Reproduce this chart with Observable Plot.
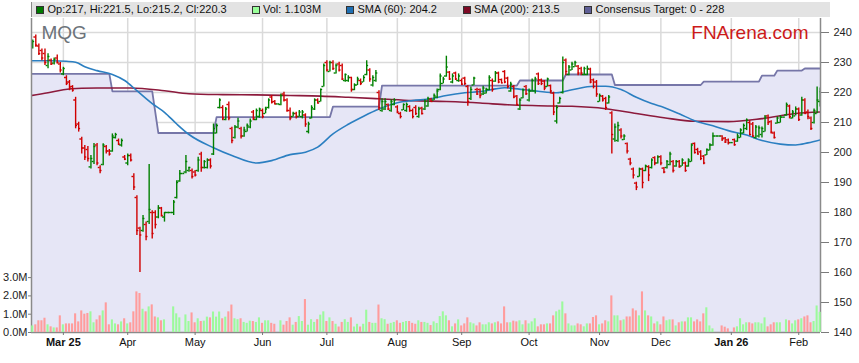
<!DOCTYPE html>
<html><head><meta charset="utf-8">
<script src="https://cdn.jsdelivr.net/npm/d3@7"></script>
<script src="https://cdn.jsdelivr.net/npm/@observablehq/plot@0.6"></script>
<style>
body{margin:0;background:#fff;font-family:"Liberation Sans",Arial,Helvetica,sans-serif;}
#wrap{position:relative;width:859px;height:363px;overflow:hidden;}
#wrap svg{position:absolute;left:0;top:0;}
#hdr{position:absolute;left:31px;top:2px;width:798px;height:15px;background:#e3e3e3;font-size:11px;color:#111;z-index:5;border-left:1.5px solid #8a8a8a;}
.it{position:absolute;top:0;line-height:15px;white-space:nowrap;}
.sq{position:absolute;top:4px;width:6px;height:6px;border:1px solid #333;}
</style></head>
<body><div id="wrap"><div id="hdr"></div></div>
<script>
// ---------- data ----------
const ticker = "MQG";
const brand = "FNArena.com";
const legendLabels = ["Op:217, Hi:221.5, Lo:215.2, Cl:220.3", "Vol: 1.103M", "SMA (60): 204.2", "SMA (200): 213.5", "Consensus Target: 0 - 228"];
const legendColors = ["#007a00", "#99ff99", "#1f6fb2", "#7d0a25", "#5f5f96"];
const monthIdx = [0, 21, 43, 65, 86, 109, 130, 152, 175, 195, 218, 240];
const monthLabels = ["Mar 25", "Apr", "May", "Jun", "Jul", "Aug", "Sep", "Oct", "Nov", "Dec", "Jan 26", "Feb"];
const priceTicks = [140, 150, 160, 170, 180, 190, 200, 210, 220, 230, 240];
const volTicks = [0, 1, 2, 3];
const firstIdx = -10; // weekday index of first bar (Mar 3 2025 = 0)

const opens = [
235,238.5,235.5,234,233,229,230.8,229.8,231.5,229.5,
226.2,225,223.5,222,217.5,209.5,204.5,201.5,201,195.2,
197,202.5,195,196,202,200.5,200.5,205,204,202.5,
198.5,196.5,199,192,185,174.8,174,176,177,180,
180,178.5,181.5,178.5,180,180,180,185,190.5,193,
193.5,194,194,193.5,194,199.5,195,195,197.5,199.5,
206.5,215,215,211,216,208,205,208.5,208,205.5,
207,208.5,213.5,211,212,214,213,215,218.5,217,
216.2,216,219.5,217.5,214,212,213,212,212,212.5,
207,211.5,214.5,217.5,217,222,230,227,230,226.5,
229.5,229,224,224,225,221,222.5,224,223.5,226,
227.5,222.5,224,220,214,214.5,216,214,216,215.2,
213,214.2,214,215.3,214,215,212,214.8,214.5,215.5,
217.8,217.5,218.5,221,223,225.5,226.8,223.5,226.5,224,
224,224.8,222,218,222.5,221,221,219.5,219.8,221,
224,223.8,226.5,224.3,227,224.8,220.5,222,218.8,214.5,
218.2,222,217.5,220.5,220.5,226.2,224.2,223.8,222,222.3,
219.8,210.5,216.5,220,230.8,226,227.5,228.6,228.8,228,
226,226,227.8,224.2,223.5,217,218.8,218,216.5,213.2,
204.5,204,207.5,204.3,203,197.8,194.5,189.8,192,194.5,
194,195.3,195,198.3,196.5,198.6,194.8,195,196,197,
195.5,197,195.5,196.5,195.5,197,203,201,200.2,198.8,
199.2,200.8,202.5,205.5,205.5,205.5,204.8,204.2,203.3,204.3,
203.8,205,206.5,208,210,209.5,205,205.5,206,207,
212.2,210.3,206.5,209.8,210,211.8,212.5,215.5,211.5,212.2,
214.5,212.5,217.5,213.5,211.5,210,213,217];
const highs = [
237.5,239.2,236.2,234.5,234.5,232.9,231.2,231.5,232.5,230,
228.4,225.6,224,222.3,218.4,210.1,205.1,202.3,202,199,
203,203,195.6,202.9,202.3,201,206.2,206.4,204.5,204.5,
199,199.5,199.5,192.9,185.6,175.1,179,176.8,196,180.6,
180.6,182.3,181.7,180,180,180,184,190.6,194,193,
199,195.1,194.5,194,198.4,200.1,197.3,197.9,197.9,209.5,
209.5,217.9,215.6,215,216.8,208.4,209,211.4,208.4,208.4,
209.5,211.2,214,214.5,214.8,214.5,215.1,217.9,219,217.3,
216.2,219.5,220.1,217.9,214.8,213.4,213.4,214,214,212.9,
210.1,215.6,217.9,217.9,221.2,229.5,230.6,230.4,230.6,229.5,
230.1,229.5,226.2,225.6,225.1,222.9,225.1,224.5,225.6,230.6,
227.9,225.6,227.3,220.6,217.9,217.9,216.2,217.6,217.9,215.6,
213.4,216.2,216.5,215.6,214.5,215.6,215.1,215.1,217.6,218.4,
218.1,219.5,221.2,226.2,225.1,232.1,227,226.2,226.8,226.2,
224.5,225.1,222.3,221.8,225.1,221.4,221.2,222.1,221.4,225.6,
224.5,227,226.8,224.5,227.3,225.1,223.4,222.3,219,217.9,
221.2,222.3,221.2,224.5,225.1,226.5,224.5,224,224.8,222.5,
220.1,215.6,218.4,231.8,231.2,229,230.1,230.4,229,228.4,
228.4,228.8,228.1,224.5,224,219.5,219,218.4,219,213.6,
209.5,210.1,207.9,205.9,203.2,198.1,194.8,190.1,194.8,194.8,
195.8,195.6,197.9,198.6,198.9,198.9,195,197.3,200.1,197.3,
197.3,197.3,197.9,196.8,197.9,202.9,203.2,201.4,200.6,199,
201.2,202.9,206.5,205.5,205.5,205.6,205,204.5,203.3,204.5,
206.2,207.9,209.5,211.2,210.6,210,209,208.8,208.5,212.3,
212.5,210.6,206.8,211.8,212.3,211.8,216.5,215.8,214,215.2,
214.8,218.4,217.9,214.2,211.8,214.5,221.8,221.5];
const lows = [
234.5,235.1,232.3,230.6,229,227.9,229,229.2,229.5,226.5,
225.6,222.3,220.6,220.1,207.9,206.8,199.5,197.3,196.8,194.5,
196,195.6,192.9,195.6,199.5,198.8,200.1,204.5,202.3,201.8,
197.3,195.6,196.8,187.3,172.3,160,173.4,170.6,176,171.2,
174.5,177.9,178.5,176.8,180,180,179,184.5,190.1,193,
192.9,193.4,191.2,191.8,193.4,193.4,194.5,194.5,194.5,199,
206.2,214.5,210.6,210.6,210.6,202.9,204.5,207.9,204.5,205.1,
206.8,207.9,210.6,210.6,211.4,211.2,212.9,214.5,216.2,215.9,
216.2,215.6,216.8,213.4,210.6,211.8,211.2,211.8,211.2,208.4,
206.2,211.2,214,216.2,216.8,221.8,226.8,226.8,227.3,226.2,
226.8,224,223.4,223.4,220.1,220.6,222.3,222.3,223.4,225.6,
223.4,221.8,223.4,214,213.4,214,214,213.4,215.6,212.9,
211.2,214,213.4,213.4,211.2,212.3,211.4,212.5,214,215.1,
216.8,217.3,217.9,220.6,222.9,225.1,224,222.9,224,223.4,
222.3,222.3,215.4,217.3,222.3,219,217.9,219,219.5,220.6,
220.1,223.4,222.9,222.9,222.9,221.2,220.1,217.9,215.6,214,
217.9,219,216.8,220.1,219.5,222.3,222.3,220.6,221.8,219.5,
212.3,209.5,216.2,219.5,225.6,225.6,227.3,228.4,225.6,225.6,
225.6,225.6,222.9,221.2,218.4,216.8,216.8,214,216.2,199.5,
203.4,203.4,204.5,204,199.5,195.6,191.2,187.3,191.8,187.9,
193.6,190.3,194.5,195.6,196.2,195.6,192.9,194.5,195.6,193.2,
195.1,194.8,195.4,193.4,195.1,196.8,199.5,199.2,197.3,195.9,
199,200.6,202.1,205.5,205.5,203.7,203,202.5,203.3,202.1,
203.4,204.8,206.2,207.3,205.6,205,204.5,204.8,204.8,206.8,
209,206.2,204.5,209.5,209.8,211.8,212.1,211.2,211.2,212.2,
210.3,212.1,212.8,210.9,207.3,209.5,212.9,215.2];
const closes = [
237,235.8,233,231.5,230,232,229.5,231,230,227.5,
228,223,221.5,220.8,209,208,201.5,198.5,198,198,
202,196.5,194,202.5,200.5,199.5,205.5,206,202.8,204,
197.8,199,197.5,188.5,174,172.5,178,172,181,173,
176,181.5,179,180,180,180,183.5,190,193,193,
197,195,192,192.5,197.5,195,197,197.5,195.5,208,
209,217.5,211.5,214.5,211.5,204,208.5,210.5,205.5,207.5,
209,210.5,211.5,214,214.5,212,214.5,217.5,216.8,216.2,
216.2,219,217.5,214,211.5,213,212,213.5,213.5,209.5,
209.5,215,217.5,216.5,221,229,227.5,230,228,229,
227.5,224.5,226,225,221,222.5,224.5,223,225,229,
224.5,225,226.5,215,217,217,214.5,217,217.5,213.5,
212,216,216,214,212,213,214.5,213,217,218,
217,219,220.5,225.5,224.5,228.5,224.5,225.5,224.5,225.5,
222.8,223,217,221,224.8,219.5,219,221.5,221,225,
221,226.5,223.5,223.2,223.5,222,222.8,218.5,216,217.5,
220.8,219.6,220.5,224,224.5,223,223,221.5,224.5,220.5,
213.5,215,218,230,227,228.5,229.5,230,226.5,226.5,
228,228,223.5,222,219.5,219,217.5,215,218.5,206,
208.5,209,205.5,205.5,200.5,196.5,192.5,188.5,194.5,190,
195.5,192.5,197.5,196.5,198.5,196.5,193.5,197,199.5,194,
197,195.2,197.5,194,197.5,202.5,200,199.5,198,196.5,
201,202.5,205.5,205.5,205.5,204.5,203.5,203.3,203.3,202.6,
205.5,207.5,209,210.8,206,205.5,208.5,208.2,208,211.8,
210,206.8,205,211.5,211.8,211.8,216,212,213.5,214.5,
211,217.5,213,212,208,214,217.5,220.3];
const volumes = [ // millions
0.36,0.42,0.64,0.64,0.78,0.42,0.31,0.25,0.25,0.91,
0.42,0.47,0.47,0.47,1.02,0.58,1.18,1.0,1.04,1.13,
0.53,0.69,0.91,1.18,1.62,0.42,0.69,0.47,0.42,0.58,
0.75,0.47,0.53,1.13,2.22,2.13,1.27,1.13,1.4,1.51,
0.85,0.8,0.64,0.69,0,0,1.4,1.02,0.8,0,
0.96,0.6,1.07,0.53,0.75,0.6,0.62,0.84,0.8,1.12,
0.84,1.12,0.75,0.84,1.13,1.5,0.75,0.7,0.75,0.55,
0.5,0.62,0.6,0.55,0.8,0.5,0.64,0.64,0.5,0.45,
0,0.64,0.4,0.6,0.8,0.4,0.55,0.87,0.6,1.8,
0.4,0.7,0.55,0.7,0.95,1.13,0.6,0.8,0.6,0.45,
0.3,0.55,0.7,0.55,0.8,0.3,0.45,0.3,0.45,1.22,
0.55,0.5,0.5,1.5,0.75,0.7,0.45,0.5,0.55,0.64,
0.5,0.55,0.6,0.6,0.5,0.45,0.64,0.55,0.55,0.5,
0.38,0.58,0.49,0.87,1.13,0.91,0.64,0.31,0.47,0.69,
0.36,0.47,0.8,0.53,0.47,0.36,0.53,0.42,0.42,0.53,
0.47,0.53,0.58,0.47,1.4,0.53,0.53,0.62,0.58,0.64,
0.42,0.64,0.47,0.58,0.75,0.31,0.42,0.42,0.47,0.47,
0.91,1.13,1.22,1.67,1.02,0.47,0.36,0.36,0.47,0.42,
0.31,0.47,0.47,0.82,0.91,0.42,0.47,0.64,0.58,2.0,
0.91,0.91,0.64,0.69,0.85,0.85,1.29,1.18,0.91,2.22,
1.18,0.91,0.85,0.47,0.58,0.42,0.85,0.64,0.69,0.69,
0.36,0.53,0.58,0.58,0.8,0.8,0.58,0.69,0.58,1.02,
1.35,0.36,0.2,0,0,0.36,0.29,0.2,0,0.25,
0.31,0.75,0.42,0.53,0.53,0.47,0.53,0.53,0.47,0.8,
0.31,0.42,0.53,0.53,0.53,0,0.69,0.64,0.47,0.64,
0.69,0.75,0.85,0.91,0.53,0.6,1.45,1.103];

const sma60I = [-11,-4,1,4,7,11,16,20,24,29,33,37,41,49,55,63,68,74,79,83,88,93,98,103,109,114,120,125,131,136,141,144,150,155,161,166,173,177,182,187,192,196,201,206,212,217,223,228,234,239,243,247];
const sma60V = [230.6,230.6,230.4,230.1,228.6,227.3,226,224,220.6,216.3,213.4,209.5,206,201.6,199,196.5,197.3,199.3,200.1,201.8,206.2,209.4,212.1,214.5,216.6,217.3,217.9,219,219.9,220.3,221.2,221.6,221,220.4,219.9,220.9,222.1,222.1,221,218.4,216.3,215,212.9,210.6,208.9,207.3,205.8,204,202.8,202.5,203.2,204.2];
const sma200I = [-11,-5,0,6,11,22,33,41,52,63,74,84,93,103,114,125,136,145,155,166,177,187,196,206,217,228,239,247];
const sma200V = [218.9,219.9,220.9,221.4,221.5,221.5,220.6,219.6,219.3,219.2,219,218.8,218.4,217.9,217.3,217,216.5,215.9,215.6,215.4,214.6,213,211.6,210.4,210.3,211.3,213,213.5];
const consI = [-11,15,16,29,31,49,50,87,88,103,104,148,149,163,164,179,180,208,209,227,228,232,233,241,242,248];
const consV = [226.2,226.2,220.4,220.4,206.5,206.5,211.8,211.8,215.3,215.3,222.3,222.3,224,224,226,226,222.5,222.5,223.6,223.6,225.6,225.6,227.3,227.3,228,228];

// ---------- layout ----------
const xDomain = [-10.4, 247.1];
const yDomain = [140, 244.67];
const volDomain = [0, 17.16];
const font = '"Liberation Sans", Arial, Helvetica, sans-serif';
const GREEN = "#008000", RED = "#d00000";
const legendSqX = [4, 219.5, 314, 430.5, 552];

const bars = opens.map((o, k) => ({i: firstIdx + k, o, h: highs[k], l: lows[k], c: closes[k], v: volumes[k]}));
const up = d => d.c >= d.o;
const sma60 = sma60I.map((i, k) => ({i, v: sma60V[k]}));
const sma200 = sma200I.map((i, k) => ({i, v: sma200V[k]}));
const cons = consI.map((i, k) => ({i, v: consV[k]}));
const months = monthIdx.map((i, k) => ({i, label: monthLabels[k], bold: /\d/.test(monthLabels[k])}));

const common = {width: 859, height: 363, marginLeft: 31, marginRight: 39, marginTop: 18, marginBottom: 31};
const barColor = d => up(d) ? GREEN : RED;

const priceChart = Plot.plot({
  ...common,
  style: {background: "#fff", fontFamily: font, fontSize: "11px"},
  x: {type: "linear", domain: xDomain},
  y: {type: "linear", domain: yDomain},
  marks: [
    Plot.ruleY(priceTicks.filter(t => t > yDomain[0]), {stroke: "#dadada", strokeWidth: 1.5}),
    Plot.ruleX(monthIdx, {stroke: "#dadada", strokeWidth: 1.5}),
    Plot.areaY(cons, {x: "i", y1: yDomain[0], y2: "v", fill: "#e6e6f6", clip: true}),
    Plot.line(cons, {x: "i", y: "v", stroke: "#7676a8", strokeWidth: 1.8, clip: true}),
    Plot.line(sma200, {x: "i", y: "v", stroke: "#8c1a3c", strokeWidth: 1.6, curve: "monotone-x", clip: true}),
    Plot.line(sma60, {x: "i", y: "v", stroke: "#2b7fc1", strokeWidth: 1.6, curve: "monotone-x", clip: true}),
    Plot.ruleX(bars, {x: "i", y1: "l", y2: "h", stroke: barColor, strokeWidth: 1.4, clip: true}),
    Plot.ruleY(bars, {y: "o", x1: d => d.i - 0.62, x2: "i", stroke: barColor, strokeWidth: 1.4, clip: true}),
    Plot.ruleY(bars, {y: "c", x1: "i", x2: d => d.i + 0.62, stroke: barColor, strokeWidth: 1.4, clip: true}),
    Plot.ruleX(xDomain, {stroke: "#8a8a8a", strokeWidth: 1.5}),
    Plot.ruleY([yDomain[0]], {stroke: "#8a8a8a", strokeWidth: 1.5}),
    Plot.axisY({anchor: "right", ticks: priceTicks, tickSize: 8, tickPadding: 5, label: null, stroke: "#7a7a7a", fill: "#222", fontSize: 11}),
    Plot.axisX({ticks: monthIdx, tickSize: 3, tickFormat: () => "", label: null, stroke: "#7a7a7a"}),
    Plot.text(months.filter(m => !m.bold), {x: "i", text: "label", frameAnchor: "bottom", lineAnchor: "middle", dy: 10, fill: "#111", fontSize: 11}),
    Plot.text(months.filter(m => m.bold), {x: "i", text: "label", frameAnchor: "bottom", lineAnchor: "middle", dy: 10, fill: "#111", fontSize: 11, fontWeight: "bold"}),
    Plot.text([ticker], {text: d => d, frameAnchor: "top-left", textAnchor: "start", lineAnchor: "top", dx: 10, dy: 7, fontSize: 19, fill: "#6c737a"}),
    Plot.text([brand], {text: d => d, frameAnchor: "top-right", textAnchor: "end", lineAnchor: "top", dx: -12, dy: 7, fontSize: 19, fill: "#cc1a1a"})
  ]
});

const volChart = Plot.plot({
  ...common,
  style: {background: "transparent", fontFamily: font, fontSize: "11px"},
  x: {type: "linear", domain: xDomain, axis: null},
  y: {type: "linear", domain: volDomain},
  marks: [
    Plot.rect(bars.filter(d => d.v > 0), {x1: d => d.i - 0.34, x2: d => d.i + 0.34, y1: 0, y2: "v", fill: d => up(d) ? "#9cfa9c" : "#ff9c9c"}),
    Plot.axisY({anchor: "left", ticks: volTicks, tickFormat: d => d.toFixed(1) + "M", tickSize: 3, tickPadding: 1, label: null, stroke: "#7a7a7a", fill: "#222", fontSize: 11})
  ]
});

const wrap = document.getElementById("wrap");
wrap.insertBefore(priceChart, wrap.firstChild);
wrap.insertBefore(volChart, document.getElementById("hdr"));

const hdr = document.getElementById("hdr");
legendLabels.forEach((lab, k) => {
  const sq = document.createElement("div");
  sq.className = "sq";
  sq.style.left = legendSqX[k] + "px";
  sq.style.background = legendColors[k];
  hdr.appendChild(sq);
  const t = document.createElement("div");
  t.className = "it";
  t.style.left = (legendSqX[k] + 11.5) + "px";
  t.textContent = lab;
  hdr.appendChild(t);
});
</script></body></html>
